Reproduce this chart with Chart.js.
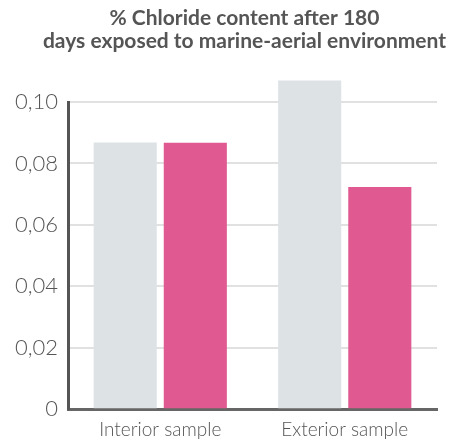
<!DOCTYPE html>
<html>
<head>
<meta charset="utf-8">
<script src="https://cdn.jsdelivr.net/npm/chart.js@4"></script>
<style>
  body { margin: 0; background: #fff; }
</style>
</head>
<body>
<canvas id="chlorideChart" width="451" height="440"></canvas>
<script>
// Chart data
const categories = ['Interior sample', 'Exterior sample'];
const greyValues = [0.0868, 0.107];
const pinkValues = [0.0867, 0.0723];
const yTicks = [0, 0.02, 0.04, 0.06, 0.08, 0.10];
const titleLines = ['% Chloride content after 180', 'days exposed to marine-aerial environment'];

// title is centred a bit left of the plot, so draw it by hand
const titlePlugin = {
  id: 'twoLineTitle',
  afterDraw(chart) {
    const c = chart.ctx;
    c.save();
    c.fillStyle = '#555';
    c.font = 'bold 21px Lato';
    c.textAlign = 'center';
    c.textBaseline = 'alphabetic';
    titleLines.forEach((line, i) => {
      c.fillText(line, 244.5, 25 + i * 22.5);
    });
    c.restore();
  }
};

const ctx = document.getElementById('chlorideChart').getContext('2d');
const chlorideChart = new Chart(ctx, {
  type: 'bar',
  data: {
    labels: categories,
    datasets: [
      {
        label: 'A',
        data: greyValues,
        backgroundColor: '#dde2e5',
        clip: false,
        categoryPercentage: 0.76,
        barPercentage: 0.9
      },
      {
        label: 'B',
        data: pinkValues,
        backgroundColor: '#e05991',
        clip: false,
        categoryPercentage: 0.76,
        barPercentage: 0.9
      }
    ]
  },
  plugins: [titlePlugin],
  options: {
    responsive: false,
    animation: false,
    layout: { padding: { left: 4, right: 14, top: 102, bottom: -2 } },
    plugins: {
      legend: { display: false },
      tooltip: { enabled: false },
      title: { display: false }
    },
    scales: {
      x: {
        grid: { display: false },
        border: { display: true, color: '#666', width: 3 },
        ticks: {
          color: '#555',
          padding: 1,
          font: { family: 'Lato', size: 19, weight: 300 }
        }
      },
      y: {
        min: 0,
        max: 0.10,
        afterBuildTicks: scale => {
          scale.ticks = yTicks.map(v => ({ value: v }));
        },
        afterFit: scale => {
          scale.width = 64;
        },
        grid: { color: '#e1e1e1', lineWidth: 2, drawTicks: false },
        border: { display: true, color: '#555', width: 3 },
        ticks: {
          color: '#555',
          padding: 10,
          font: { family: 'Lato', size: 22, weight: 300 },
          callback: v => v === 0 ? '0' : v.toFixed(2).replace('.', ',')
        }
      }
    }
  }
});
</script>
</body>
</html>
